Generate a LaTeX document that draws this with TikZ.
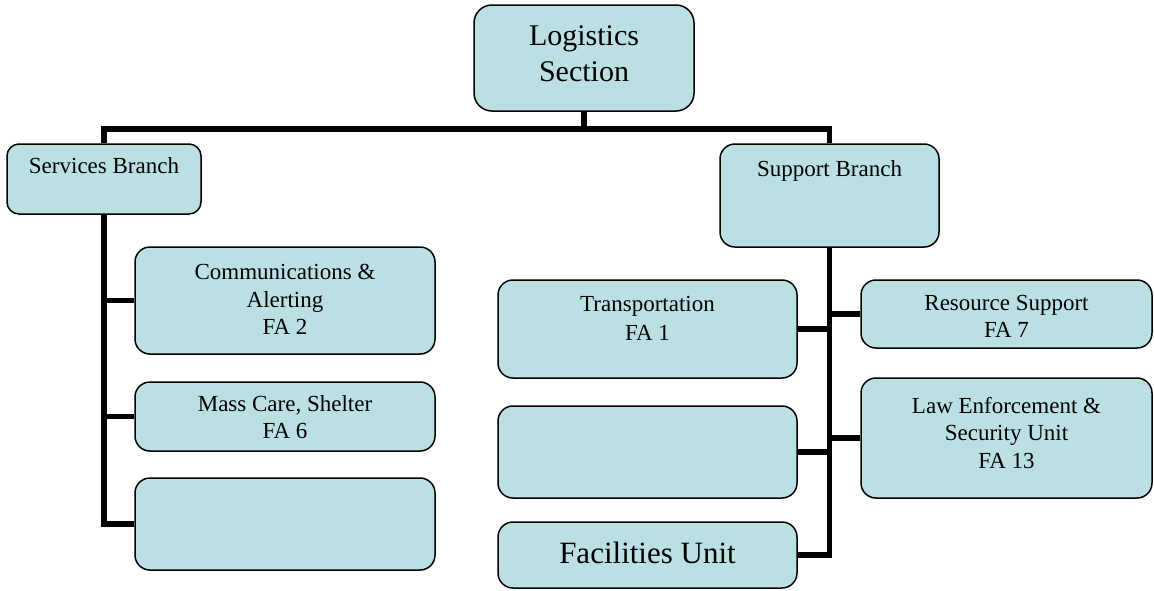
\documentclass[tikz,border=0pt]{standalone}
\usepackage{fontspec}
\setmainfont{Liberation Serif}
\definecolor{boxfill}{HTML}{BBE0E3}
\begin{document}
\begin{tikzpicture}[x=1pt,y=-1pt,
  box/.style={draw=black,line width=1.5pt,fill=boxfill,rounded corners=15pt,inner sep=0pt,minimum width=#1},
  boxtext/.style={anchor=north,inner sep=0pt,align=center,font=\fontsize{23}{27.5}\selectfont},
  bigtext/.style={anchor=north,inner sep=0pt,align=center,font=\fontsize{31}{36}\selectfont},
  conn/.style={draw=black,line width=5.5pt}]
\useasboundingbox (0,0) rectangle (1154,590);
% boxes
\node[box=220pt,minimum height=106pt,rounded corners=18pt] (log) at (584,58) {};
\node[box=194pt,minimum height=70pt,rounded corners=12pt] (serv) at (104,179) {};
\node[box=219pt,minimum height=103pt] (sup) at (829.5,195.5) {};
\node[box=300pt,minimum height=107pt] (comm) at (285,300.5) {};
\node[box=300pt,minimum height=69pt] (mass) at (285,416.5) {};
\node[box=300pt,minimum height=92pt] (emptyl) at (285,524) {};
\node[box=299pt,minimum height=98pt] (trans) at (647.5,329) {};
\node[box=299pt,minimum height=92pt] (emptyr) at (647.5,452) {};
\node[box=299pt,minimum height=66pt] (fac) at (647.5,555) {};
\node[box=291pt,minimum height=68pt] (res) at (1006.5,314) {};
\node[box=291pt,minimum height=120pt] (law) at (1006.5,438) {};
% texts
\node[bigtext,font=\fontsize{30}{36}\selectfont] (logt) at (584,25) {Logistics\\Section};
\node[boxtext] (servt) at (104,157) {Services Branch};
\node[boxtext] (supt) at (829.5,160) {Support Branch};
\node[boxtext] (commt) at (285,264) {Communications \&\\Alerting\\FA 2};
\node[boxtext] (masst) at (285,395) {Mass Care, Shelter\\FA 6};
\node[boxtext,font=\fontsize{23}{29}\selectfont] (transt) at (647.5,296) {Transportation\\FA 1};
\node[bigtext] (fact) at (647.5,542) {Facilities Unit};
\node[boxtext] (rest) at (1006.5,295) {Resource Support\\FA 7};
\node[boxtext] (lawt) at (1006.5,397) {Law Enforcement \&\\Security Unit\\FA 13};
% connectors
\draw[conn] (log.south) -- ++(0,17) coordinate (bar);
\draw[conn] (serv.north) |- (bar) -| (sup.north);
\draw[conn] (serv.south) |- (emptyl.west);
\draw[conn] (comm.west) -- (comm.west -| serv.south);
\draw[conn] (mass.west) -- (mass.west -| serv.south);
\draw[conn] (sup.south) |- (fac.east);
\draw[conn] (trans.east) -- (trans.east -| sup.south);
\draw[conn] (emptyr.east) -- (emptyr.east -| sup.south);
\draw[conn] (res.west) -- (res.west -| sup.south);
\draw[conn] (law.west) -- (law.west -| sup.south);
\end{tikzpicture}
\end{document}
